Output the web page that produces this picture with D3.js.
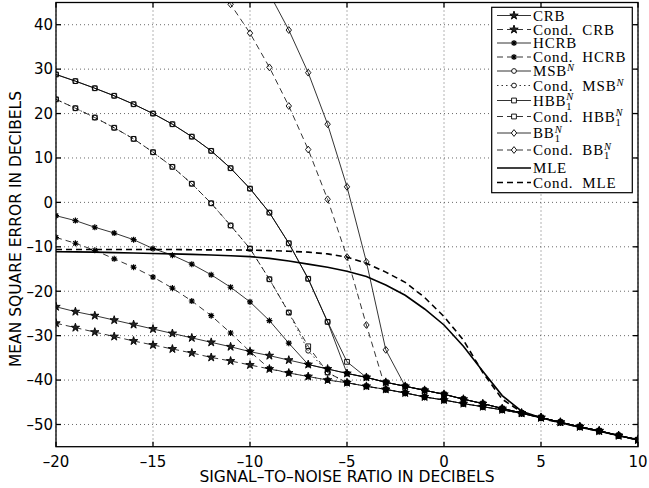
<!DOCTYPE html>
<html>
<head>
<meta charset="utf-8">
<script src="https://cdn.jsdelivr.net/npm/d3@7"></script>
<style>
  body { margin: 0; background: #fff; }
  svg { display: block; }
</style>
</head>
<body>
<div id="chart"></div>
<script>
// SNR grid in dB
const snr = [-20, -19, -18, -17, -16, -15, -14, -13, -12, -11, -10, -9, -8, -7, -6, -5,
             -4, -3, -2, -1, 0, 1, 2, 3, 4, 5, 6, 7, 8, 9, 10];

// mean square error in dB (null = above the plot)
const crb      = [-23.5, -24.6, -25.5, -26.5, -27.5, -28.5, -29.5, -30.5, -31.5, -32.5, -33.6, -34.5, -35.5, -36.5, -37.5, -38.5,
                  -39.4, -40.5, -41.4, -42.3, -43.2, -44.3, -45.3, -46.4, -47.4, -48.4, -49.5, -50.5, -51.4, -52.5, -53.4];
const condCrb  = [-27.2, -28.2, -29.2, -30.2, -31.2, -32.1, -33.0, -33.9, -34.9, -35.7, -36.6, -37.5, -38.4, -39.2, -40.0, -40.6,
                  -41.4, -42.1, -42.9, -43.8, -44.5, -45.3, -46.0, -46.7, -47.5, -48.5, -49.5, -50.5, -51.5, -52.5, -53.5];
const hcrb     = [-3.0, -4.1, -5.6, -6.9, -8.4, -10.4, -11.9, -13.9, -16.3, -19.1, -22.4, -26.6, -31.7, -36.5, -37.5, -38.5,
                  -39.4, -40.5, -41.4, -42.3, -43.2, -44.3, -45.3, -46.4, -47.4, -48.4, -49.5, -50.5, -51.4, -52.5, -53.4];
const condHcrb = [-7.9, -9.2, -10.8, -12.7, -14.6, -16.8, -19.3, -22.2, -25.5, -29.4, -33.6, -37.4, -38.4, -39.2, -40.0, -40.6,
                  -41.4, -42.1, -42.9, -43.8, -44.5, -45.3, -46.0, -46.7, -47.5, -48.5, -49.5, -50.5, -51.5, -52.5, -53.5];
const msb      = [28.8, 27.3, 25.7, 24.0, 22.1, 20.0, 17.6, 14.8, 11.6, 7.7, 3.1, -2.3, -9.2, -17.2, -26.9, -38.5,
                  -39.4, -40.5, -41.4, -42.3, -43.2, -44.3, -45.3, -46.4, -47.4, -48.4, -49.5, -50.5, -51.4, -52.5, -53.4];
const condMsb  = [23.2, 21.2, 19.1, 16.8, 14.3, 11.3, 8.0, 4.2, -0.2, -5.2, -10.4, -17.3, -24.8, -33.4, -38.3, -40.6,
                  -41.4, -42.1, -42.9, -43.8, -44.5, -45.3, -46.0, -46.7, -47.5, -48.5, -49.5, -50.5, -51.5, -52.5, -53.5];
const hbb      = [28.8, 27.3, 25.7, 24.0, 22.1, 20.0, 17.6, 14.8, 11.6, 7.7, 3.1, -2.3, -9.2, -17.2, -26.9, -35.9,
                  -39.4, -40.5, -41.4, -42.3, -43.2, -44.3, -45.3, -46.4, -47.4, -48.4, -49.5, -50.5, -51.4, -52.5, -53.4];
const condHbb  = [23.2, 21.2, 19.1, 16.8, 14.3, 11.3, 8.0, 4.2, -0.2, -5.2, -10.4, -17.3, -24.8, -32.4, -38.3, -40.6,
                  -41.4, -42.1, -42.9, -43.8, -44.5, -45.3, -46.0, -46.7, -47.5, -48.5, -49.5, -50.5, -51.5, -52.5, -53.5];
const bb       = [null, null, null, null, null, null, null, null, null, null, null, 47.0, 38.8, 29.2, 17.6, 3.5,
                  -13.4, -33.2, -41.4, -42.3, -43.2, -44.3, -45.3, -46.4, -47.4, -48.4, -49.5, -50.5, -51.4, -52.5, -53.4];
const condBb   = [null, null, null, null, null, null, null, null, 50.5, 44.6, 38.1, 30.4, 21.7, 11.9, 0.7, -12.3,
                  -27.6, -42.1, -42.9, -43.8, -44.5, -45.3, -46.0, -46.7, -47.5, -48.5, -49.5, -50.5, -51.5, -52.5, -53.5];
const mle      = [-11.1, -11.15, -11.2, -11.3, -11.4, -11.5, -11.6, -11.7, -11.85, -12.0, -12.2, -12.6, -13.2, -13.9, -14.6, -15.5,
                  -16.7, -18.6, -20.9, -24.0, -27.6, -32.4, -38.0, -43.5, -47.0, -48.5, -49.6, -50.6, -51.5, -52.5, -53.5];
const condMle  = [-10.6, -10.6, -10.6, -10.6, -10.6, -10.6, -10.6, -10.65, -10.7, -10.7, -10.75, -10.85, -11.0, -11.2, -11.6, -12.3,
                  -13.7, -15.7, -18.0, -21.4, -25.7, -31.0, -38.3, -44.3, -47.2, -48.6, -49.6, -50.6, -51.5, -52.5, -53.5];

const xTicks = [-20, -15, -10, -5, 0, 5, 10];
const yTicks = [-50, -40, -30, -20, -10, 0, 10, 20, 30, 40];

// legend label: base text, optional subscript / superscript
const series = [
  { name: "CRB",         sub: null, sup: null, values: crb,      dash: null,     marker: "star" },
  { name: "Cond.  CRB",  sub: null, sup: null, values: condCrb,  dash: "6,4",    marker: "star" },
  { name: "HCRB",        sub: null, sup: null, values: hcrb,     dash: null,     marker: "asterisk" },
  { name: "Cond.  HCRB", sub: null, sup: null, values: condHcrb, dash: "6,4",    marker: "asterisk" },
  { name: "MSB",         sub: null, sup: "N",  values: msb,      dash: null,     marker: "circle" },
  { name: "Cond.  MSB",  sub: null, sup: "N",  values: condMsb,  dash: "1.5,3",  marker: "circle" },
  { name: "HBB",         sub: "1",  sup: "N",  values: hbb,      dash: null,     marker: "square" },
  { name: "Cond.  HBB",  sub: "1",  sup: "N",  values: condHbb,  dash: "6,4",    marker: "square" },
  { name: "BB",          sub: "1",  sup: "N",  values: bb,       dash: null,     marker: "diamond" },
  { name: "Cond.  BB",   sub: "1",  sup: "N",  values: condBb,   dash: "6,4",    marker: "diamond" },
  { name: "MLE",         sub: null, sup: null, values: mle,      dash: null,     marker: null, thick: true },
  { name: "Cond.  MLE",  sub: null, sup: null, values: condMle,  dash: "6,4",    marker: null, thick: true }
];

const width = 649, height = 488;
const plot = { left: 56, right: 638, top: 2.5, bottom: 446.7 };

const x = d3.scaleLinear().domain([-20, 10]).range([plot.left, plot.right]);
const y = d3.scaleLinear().domain([-55, 45]).range([plot.bottom, plot.top]);

const svg = d3.select("#chart").append("svg")
  .attr("width", width)
  .attr("height", height);

svg.append("defs").append("clipPath").attr("id", "clip")
  .append("rect")
  .attr("x", plot.left).attr("y", plot.top)
  .attr("width", plot.right - plot.left).attr("height", plot.bottom - plot.top);

const fmt = d => d < 0 ? "\u2013" + (-d) : String(d);

// grid
const grid = svg.append("g")
  .attr("stroke", "#444")
  .attr("stroke-width", 0.8)
  .attr("stroke-dasharray", "1,3");
grid.selectAll(".gx").data(xTicks).join("line")
  .attr("x1", d => x(d)).attr("x2", d => x(d))
  .attr("y1", plot.top).attr("y2", plot.bottom);
grid.selectAll(".gy").data(yTicks).join("line")
  .attr("y1", d => y(d)).attr("y2", d => y(d))
  .attr("x1", plot.left).attr("x2", plot.right);

function markerPath(type) {
  switch (type) {
    case "star": return d3.symbol(d3.symbolStar, 22)();
    case "asterisk": return "M-3,0H3M0,-3V3M-2.2,-2.2L2.2,2.2M-2.2,2.2L2.2,-2.2";
    case "circle": return d3.symbol(d3.symbolCircle, 18)();
    case "square": return "M-2.4,-2.4h4.8v4.8h-4.8Z";
    case "diamond": return "M0,-3.4L2.7,0L0,3.4L-2.7,0Z";
  }
  return null;
}
const markerFill = type => type === "star" ? "#222" : "none";

const line = d3.line()
  .defined(d => d[1] != null)
  .x(d => x(d[0]))
  .y(d => y(d[1]));

const plotArea = svg.append("g").attr("clip-path", "url(#clip)");

series.forEach(s => {
  const pts = snr.map((v, i) => [v, s.values[i]]);
  plotArea.append("path")
    .datum(pts)
    .attr("d", line)
    .attr("fill", "none")
    .attr("stroke", "#000")
    .attr("stroke-width", s.thick ? 1.6 : 0.8)
    .attr("stroke-dasharray", s.dash);
  if (s.marker) {
    plotArea.append("g").selectAll("path")
      .data(pts.filter(d => d[1] != null))
      .join("path")
      .attr("transform", d => `translate(${x(d[0])},${y(d[1])})`)
      .attr("d", markerPath(s.marker))
      .attr("fill", markerFill(s.marker))
      .attr("stroke", "#000")
      .attr("stroke-width", s.marker === "asterisk" ? 1.2 : 0.9);
  }
});

// axes box and inward ticks
const axes = svg.append("g").attr("stroke", "#000").attr("stroke-width", 1.3);
axes.append("rect")
  .attr("x", plot.left).attr("y", plot.top)
  .attr("width", plot.right - plot.left).attr("height", plot.bottom - plot.top)
  .attr("fill", "none");
const tl = 5;
xTicks.forEach(t => {
  axes.append("line").attr("x1", x(t)).attr("x2", x(t)).attr("y1", plot.bottom).attr("y2", plot.bottom - tl);
  axes.append("line").attr("x1", x(t)).attr("x2", x(t)).attr("y1", plot.top).attr("y2", plot.top + tl);
});
yTicks.forEach(t => {
  axes.append("line").attr("y1", y(t)).attr("y2", y(t)).attr("x1", plot.left).attr("x2", plot.left + tl);
  axes.append("line").attr("y1", y(t)).attr("y2", y(t)).attr("x1", plot.right).attr("x2", plot.right - tl);
});

const sans = "'DejaVu Sans', sans-serif";
svg.append("g").selectAll("text").data(xTicks).join("text")
  .attr("x", d => x(d)).attr("y", 466.5)
  .attr("text-anchor", "middle")
  .style("font-family", sans).style("font-size", "15px")
  .text(fmt);
svg.append("g").selectAll("text").data(yTicks).join("text")
  .attr("x", 53).attr("y", d => y(d) + 5.3)
  .attr("text-anchor", "end")
  .style("font-family", sans).style("font-size", "15px")
  .text(fmt);

svg.append("text")
  .attr("x", (plot.left + plot.right) / 2).attr("y", 481.5)
  .attr("text-anchor", "middle")
  .style("font-family", sans).style("font-size", "15.5px")
  .text("SIGNAL\u2013TO\u2013NOISE RATIO IN DECIBELS");
svg.append("text")
  .attr("transform", "translate(20.5,229) rotate(-90)")
  .attr("text-anchor", "middle")
  .style("font-family", sans).style("font-size", "15.5px")
  .text("MEAN SQUARE ERROR IN DECIBELS");

// legend
const rowY = [15.5, 29.5, 43, 57, 71, 85.5, 100.5, 116.5, 133, 150, 168, 182.5];
const legend = svg.append("g");
legend.append("rect")
  .attr("x", 491.7).attr("y", 7.3)
  .attr("width", 140.6).attr("height", 185.4)
  .attr("fill", "#fff").attr("stroke", "#000").attr("stroke-width", 1.2);

series.forEach((s, i) => {
  const ry = rowY[i];
  legend.append("line")
    .attr("x1", 497).attr("x2", 531).attr("y1", ry).attr("y2", ry)
    .attr("stroke", "#000")
    .attr("stroke-width", s.thick ? 1.6 : 0.8)
    .attr("stroke-dasharray", s.dash);
  if (s.marker) {
    legend.append("path")
      .attr("transform", `translate(514,${ry})`)
      .attr("d", markerPath(s.marker))
      .attr("fill", s.marker === "star" ? "#222" : "#fff")
      .attr("stroke", "#000")
      .attr("stroke-width", s.marker === "asterisk" ? 1.2 : 0.9);
  }
  const t = legend.append("text")
    .attr("x", 533).attr("y", ry + 5)
    .attr("xml:space", "preserve")
    .style("font-family", "'Liberation Serif', serif")
    .style("font-size", "15px")
    .style("letter-spacing", "0.8px");
  t.append("tspan").text(s.name);
  if (s.sup) {
    const sup = t.append("tspan")
      .attr("dx", 0).attr("dy", s.sub ? -5.5 : -5)
      .style("font-style", "italic").style("font-size", "10.5px")
      .style("letter-spacing", "0px")
      .text(s.sup);
    if (s.sub) {
      const sw = sup.node().getComputedTextLength();
      t.append("tspan")
        .attr("dx", -sw).attr("dy", 9.5)
        .style("font-size", "10.5px")
        .style("letter-spacing", "0px")
        .text(s.sub);
    }
  }
});
</script>
</body>
</html>
